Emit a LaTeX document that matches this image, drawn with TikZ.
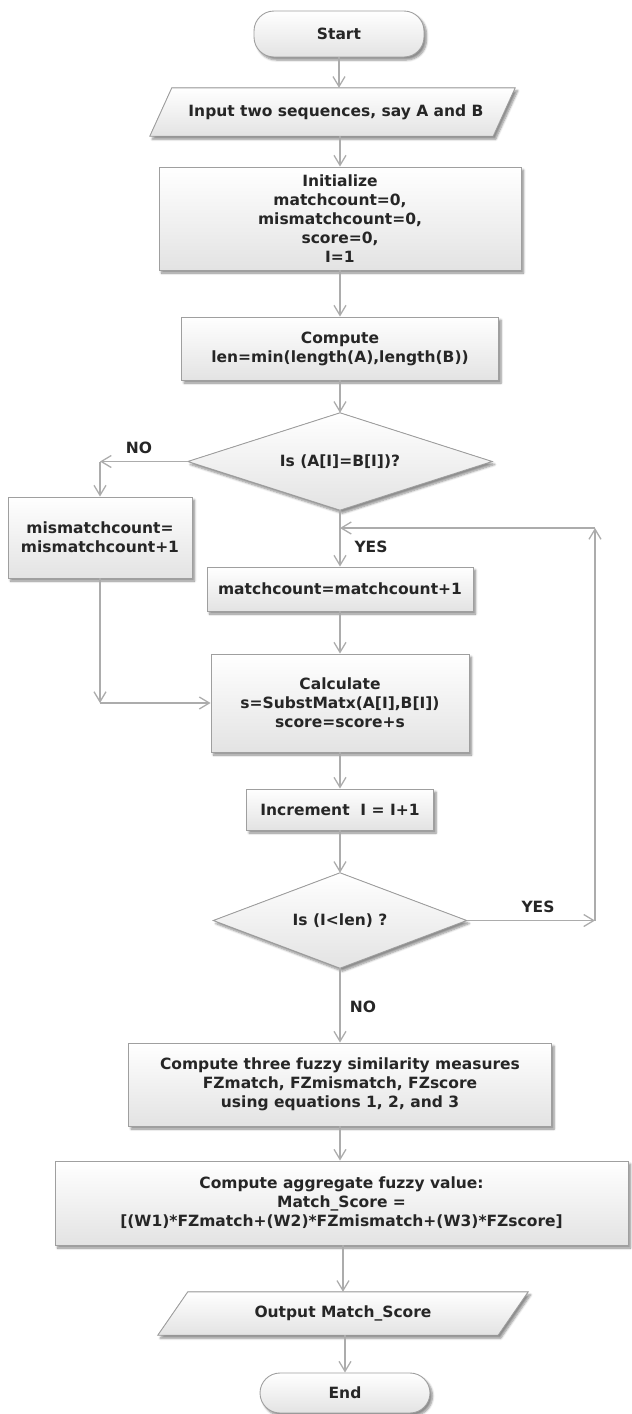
\documentclass[tikz,border=0pt]{standalone}
\usepackage{fontspec}
\setmainfont{DejaVu Sans}
\usetikzlibrary{arrows.meta,shapes.geometric,shadows,shadows.blur}
\begin{document}
\begin{tikzpicture}[x=1pt,y=-1pt,
  every node/.style={font=\bfseries\fontsize{15.5}{19}\selectfont, text=black!85},
  shd/.style={blur shadow={shadow xshift=2.5pt, shadow yshift=-3pt, shadow opacity=45, shadow blur steps=6}},
  fillst/.style={top color=white, bottom color=gray!22, draw=gray!75, line width=0.9pt},
  procbox/.style={rectangle, fillst, shd, align=center, inner sep=0pt},
  term/.style={rectangle, rounded corners=20pt, fillst, shd, inner sep=0pt},
  iobox/.style={rectangle, inner sep=0pt, align=center},
  arr/.style={draw=gray!65, line width=1.8pt, -{Straight Barb[length=10pt,width=12pt,line width=1.3pt]}},
  lab/.style={inner sep=0pt}
]
\useasboundingbox (0,0) rectangle (632,1414);

% nodes
\node[term, minimum width=170pt, minimum height=46pt] (start) at (339,34) {Start};

\node[iobox, minimum width=365pt, minimum height=48pt] (input) at (332.5,112) {};
\filldraw[fillst, shd] ([xshift=22pt]input.north west) -- (input.north east) -- ([xshift=-22pt]input.south east) -- (input.south west) -- cycle;
\node (inputtxt) at (336,112) {Input two sequences, say A and B};

\node[procbox, minimum width=362pt, minimum height=103pt] (init) at (340,218.5)
  {Initialize\\matchcount=0,\\mismatchcount=0,\\score=0,\\I=1};
\node[procbox, minimum width=317pt, minimum height=63pt] (comp) at (340,348.5)
  {Compute\\len=min(length(A),length(B))};

\node[iobox, minimum width=304pt, minimum height=97pt] (d1) at (340,461.5) {};
\filldraw[fillst, shd] (d1.north) -- (d1.east) -- (d1.south) -- (d1.west) -- cycle;
\node (d1txt) at (d1.center) {Is (A[I]=B[I])?};

\node[procbox, minimum width=184pt, minimum height=81pt] (mism) at (100,537.5)
  {mismatchcount=\\mismatchcount+1};
\node[procbox, minimum width=266pt, minimum height=44pt] (match) at (340,589)
  {matchcount=matchcount+1};
\node[procbox, minimum width=258pt, minimum height=98pt] (calc) at (340,703)
  {Calculate\\s=SubstMatx(A[I],B[I])\\score=score+s};
\node[procbox, minimum width=187pt, minimum height=41pt] (incr) at (340,809.5)
  {Increment\ \ I = I+1};

\node[iobox, minimum width=253pt, minimum height=95pt] (d2) at (340,920.5) {};
\filldraw[fillst, shd] (d2.north) -- (d2.east) -- (d2.south) -- (d2.west) -- cycle;
\node (d2txt) at (d2.center) {Is (I<len) ?};

\node[procbox, minimum width=423pt, minimum height=83pt] (fuzzy) at (340,1084.5)
  {Compute three fuzzy similarity measures\\FZmatch, FZmismatch, FZscore\\using equations 1, 2, and 3};
\node[procbox, minimum width=573pt, minimum height=84pt] (aggr) at (341.5,1203)
  {Compute aggregate fuzzy value:\\Match\_Score =\\{}[(W1)*FZmatch+(W2)*FZmismatch+(W3)*FZscore]};

\node[iobox, minimum width=370pt, minimum height=43pt] (output) at (343,1313.5) {};
\filldraw[fillst, shd] ([xshift=30pt]output.north west) -- (output.north east) -- ([xshift=-30pt]output.south east) -- (output.south west) -- cycle;
\node (outputtxt) at (output.center) {Output Match\_Score};

\node[term, minimum width=170pt, minimum height=40pt] (end) at (345,1393) {End};

% labels
\node[lab] (no1) at (139,448) {NO};
\node[lab] (yes1) at (371,547) {YES};
\node[lab] (yes2) at (538,907) {YES};
\node[lab] (no2) at (363,1007) {NO};

% connectors
\draw[arr] (start.south) -- (start.south |- input.north);
\draw[arr] (input.south -| init.north) -- (init.north);
\draw[arr] (init.south) -- (init.south |- comp.north);
\draw[arr] (comp.south) -- (comp.south |- d1.north);
\draw[arr] (d1.south) -- (d1.south |- match.north);
\draw[arr] (match.south) -- (match.south |- calc.north);
\draw[arr] (calc.south) -- (calc.south |- incr.north);
\draw[arr] (incr.south) -- (incr.south |- d2.north);
\draw[arr] (d2.south) -- (d2.south |- fuzzy.north);
\draw[arr] (fuzzy.south) -- (fuzzy.south |- aggr.north);
\draw[arr] (aggr.south -| output.north) -- (output.north);
\draw[arr] (output.south -| end.north) -- (end.north);

% NO branch
\coordinate (nl) at (d1.west -| mism.north);
\draw[arr] (d1.west) -- (nl);
\draw[arr] (nl) -- (mism.north);
\coordinate (mc) at (mism.south |- calc.west);
\draw[arr] (mism.south) -- (mc);
\draw[arr] (mc) -- (calc.west);

% loop back
\coordinate (lp) at (595,528);
\coordinate (lb) at (d2.east -| lp);
\draw[arr] (d2.east) -- (lb);
\draw[arr] (lb) -- (lp);
\draw[arr] (lp) -- (lp -| d1.south);
\end{tikzpicture}
\end{document}
